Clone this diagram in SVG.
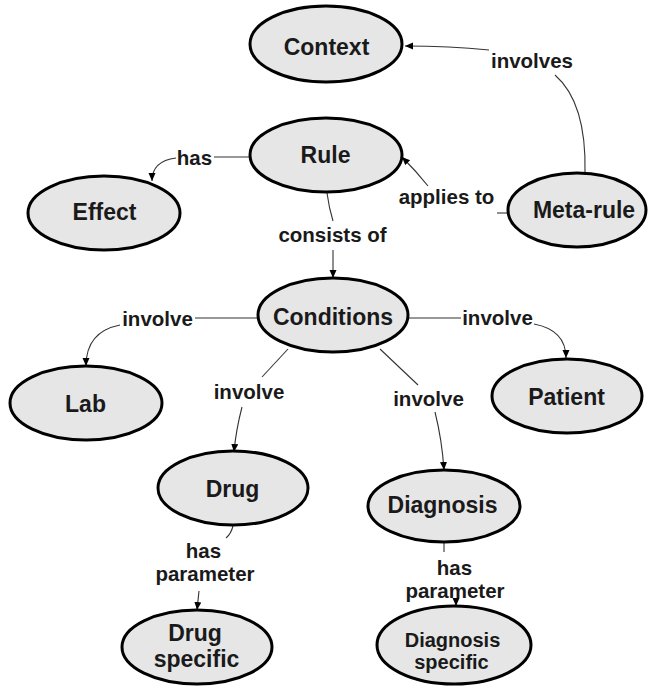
<svg xmlns="http://www.w3.org/2000/svg" width="651" height="687" viewBox="0 0 651 687">
  <style>
    .node ellipse { fill: #e6e6e6; stroke: #000; stroke-width: 3; }
    .node text { font-family: "Liberation Sans", Arial, sans-serif; font-weight: bold; font-size: 23px; fill: #1a1a1a; text-anchor: middle; }
    .lbl { font-family: "Liberation Sans", Arial, sans-serif; font-weight: bold; font-size: 20.5px; fill: #1a1a1a; text-anchor: middle; }
    .edge { fill: none; stroke: #333; stroke-width: 1.1; }
  </style>
  <defs>
    <marker id="arrow" markerUnits="userSpaceOnUse" markerWidth="9" markerHeight="8" refX="8" refY="3.5" orient="auto">
      <path d="M0,0 L8,3.5 L0,7 z" fill="#000"/>
    </marker>
  </defs>
  <rect width="651" height="687" fill="#fff"/>

  <!-- connectors -->
  <g id="connectors">
    <!-- Meta-rule involves Context -->
    <path class="edge" d="M585,173 C586,130 578,95 555,75"/>
    <path class="edge" d="M489,50 Q450,46 405,46" marker-end="url(#arrow)"/>
    <!-- Rule has Effect -->
    <path class="edge" d="M250,157 L214,157"/>
    <path class="edge" d="M176,158 C160,160 152,168 152,181" marker-end="url(#arrow)"/>
    <!-- Rule consists of Conditions -->
    <path class="edge" d="M327,193 Q329,208 333,221"/>
    <path class="edge" d="M333,250 L333,278" marker-end="url(#arrow)"/>
    <!-- Meta-rule applies to Rule -->
    <path class="edge" d="M508,213 L497,213"/>
    <path class="edge" d="M428,186 Q416,171 402,157" marker-end="url(#arrow)"/>
    <!-- Conditions involve Lab -->
    <path class="edge" d="M258,318 L195,318"/>
    <path class="edge" d="M120,325 C95,330 86,345 86,366" marker-end="url(#arrow)"/>
    <!-- Conditions involve Drug -->
    <path class="edge" d="M288,349 L262,377"/>
    <path class="edge" d="M242,407 Q236,430 234,452" marker-end="url(#arrow)"/>
    <!-- Conditions involve Patient -->
    <path class="edge" d="M408,318 L461,318"/>
    <path class="edge" d="M534,324 C555,328 566,340 566,358" marker-end="url(#arrow)"/>
    <!-- Conditions involve Diagnosis -->
    <path class="edge" d="M380,349 L418,385"/>
    <path class="edge" d="M435,412 Q442,440 444,470" marker-end="url(#arrow)"/>
    <!-- Drug has parameter Drug specific -->
    <path class="edge" d="M233,526 Q231,534 226,538"/>
    <path class="edge" d="M199,591 L197,610" marker-end="url(#arrow)"/>
    <!-- Diagnosis has parameter Diagnosis specific -->
    <path class="edge" d="M444,542 L444,552"/>
    <path class="edge" d="M456,598 L456,606" marker-end="url(#arrow)"/>

    <text class="lbl" x="532" y="68">involves</text>
    <text class="lbl" x="194.5" y="165">has</text>
    <text class="lbl" x="332.5" y="242">consists of</text>
    <text class="lbl" x="446.5" y="204">applies to</text>
    <text class="lbl" x="157.5" y="326">involve</text>
    <text class="lbl" x="249" y="399">involve</text>
    <text class="lbl" x="497.5" y="325">involve</text>
    <text class="lbl" x="428.5" y="406">involve</text>
    <text class="lbl" x="203.5" y="558">has</text>
    <text class="lbl" x="205" y="581">parameter</text>
    <text class="lbl" x="454.5" y="575">has</text>
    <text class="lbl" x="455" y="598">parameter</text>
  </g>

  <!-- nodes -->
  <g id="context" class="node">
    <ellipse cx="326" cy="44" rx="76" ry="38"/>
    <text x="326.5" y="55">Context</text>
  </g>
  <g id="rule" class="node">
    <ellipse cx="326" cy="155" rx="76" ry="37"/>
    <text x="325.5" y="163">Rule</text>
  </g>
  <g id="effect" class="node">
    <ellipse cx="104" cy="213" rx="76" ry="37"/>
    <text x="104.5" y="220">Effect</text>
  </g>
  <g id="meta-rule" class="node">
    <ellipse cx="577" cy="210" rx="69" ry="37"/>
    <text x="584" y="218">Meta-rule</text>
  </g>
  <g id="conditions" class="node">
    <ellipse cx="333" cy="315" rx="75" ry="37"/>
    <text x="333" y="325">Conditions</text>
  </g>
  <g id="lab" class="node">
    <ellipse cx="86" cy="403" rx="76" ry="37"/>
    <text x="85.5" y="412">Lab</text>
  </g>
  <g id="patient" class="node">
    <ellipse cx="567" cy="396" rx="75" ry="37"/>
    <text x="566.5" y="405">Patient</text>
  </g>
  <g id="drug" class="node">
    <ellipse cx="233" cy="488" rx="75" ry="37"/>
    <text x="232.5" y="497">Drug</text>
  </g>
  <g id="diagnosis" class="node">
    <ellipse cx="444" cy="506" rx="76" ry="36"/>
    <text x="442.5" y="513">Diagnosis</text>
  </g>
  <g id="drug-specific" class="node">
    <ellipse cx="197" cy="647" rx="75" ry="37"/>
    <text x="195" y="641">Drug</text>
    <text x="196.5" y="667">specific</text>
  </g>
  <g id="diagnosis-specific" class="node">
    <ellipse cx="454" cy="645" rx="77" ry="39"/>
    <text x="452.5" y="647" style="font-size:20px">Diagnosis</text>
    <text x="451.5" y="669" style="font-size:20px">specific</text>
  </g>
</svg>
